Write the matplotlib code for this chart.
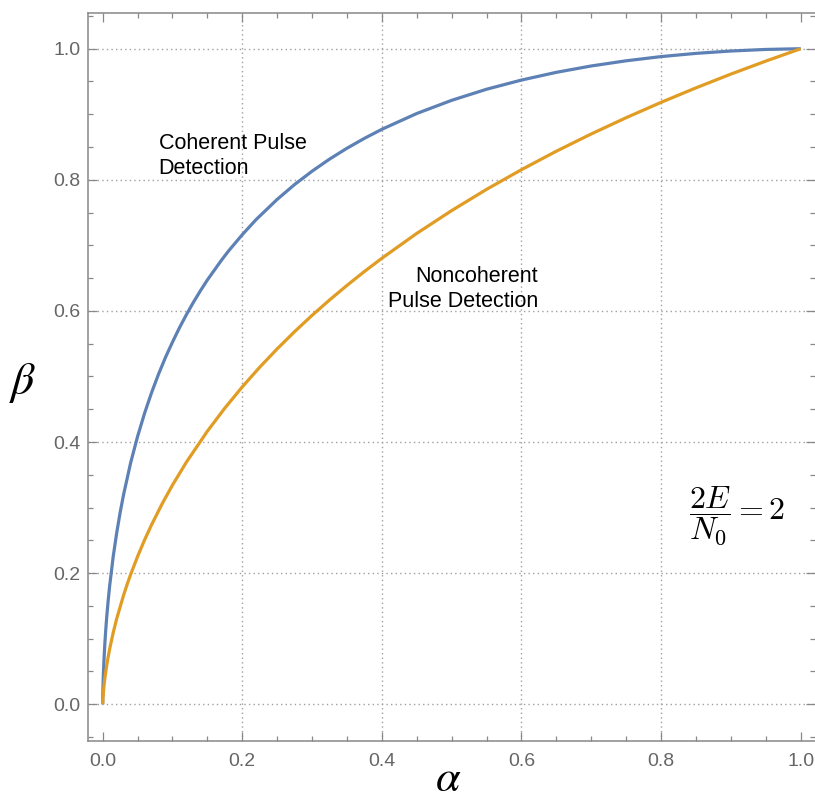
import numpy as np
import matplotlib.pyplot as plt
from matplotlib.ticker import MultipleLocator

# false alarm probability (alpha) vs detection probability (beta)
alpha_coh = [0.0, 0.00002, 0.0001, 0.0002, 0.0005, 0.001, 0.002, 0.003, 0.004,
             0.005, 0.006, 0.008, 0.01, 0.015, 0.02, 0.025, 0.03, 0.04, 0.05,
             0.06, 0.07, 0.08, 0.09, 0.1, 0.11, 0.12, 0.13, 0.14, 0.15, 0.17,
             0.18, 0.2, 0.22, 0.25, 0.275, 0.3, 0.325, 0.35, 0.375, 0.4, 0.45,
             0.5, 0.55, 0.6, 0.65, 0.7, 0.75, 0.8, 0.85, 0.9, 0.95, 1.0]
beta_coh = [0.0, 0.0035, 0.0106, 0.0168, 0.0303, 0.0469, 0.0716, 0.0912, 0.1079,
            0.1226, 0.1362, 0.1599, 0.1809, 0.2249, 0.2611, 0.2926, 0.3203,
            0.3682, 0.4086, 0.4440, 0.4753, 0.5036, 0.5293, 0.5525, 0.5744,
            0.5945, 0.6133, 0.6308, 0.6473, 0.6772, 0.6911, 0.7164, 0.7396,
            0.7702, 0.7929, 0.8132, 0.8316, 0.8482, 0.8633, 0.8771, 0.9012,
            0.9213, 0.9382, 0.9522, 0.9640, 0.9737, 0.9816, 0.9880, 0.9929,
            0.9965, 0.9989, 1.0]

alpha_nc = [0.0, 0.0001, 0.0002, 0.0005, 0.001, 0.002, 0.003, 0.005, 0.0075,
            0.01, 0.015, 0.02, 0.03, 0.035, 0.04, 0.05, 0.06, 0.07, 0.085, 0.1,
            0.12, 0.15, 0.175, 0.2, 0.225, 0.25, 0.275, 0.3, 0.325, 0.35, 0.375,
            0.4, 0.45, 0.5, 0.55, 0.6, 0.65, 0.7, 0.75, 0.8, 0.85, 0.9, 0.95,
            1.0]
beta_nc = [0.0, 0.0037, 0.0060, 0.0115, 0.0185, 0.0295, 0.0387, 0.0541, 0.0703,
           0.0845, 0.1090, 0.1303, 0.1667, 0.1828, 0.1979, 0.2255, 0.2507,
           0.2738, 0.3055, 0.3344, 0.3695, 0.4166, 0.4518, 0.4842, 0.5142,
           0.5422, 0.5685, 0.5933, 0.6167, 0.6390, 0.6602, 0.6804, 0.7183,
           0.7531, 0.7855, 0.8155, 0.8437, 0.8700, 0.8948, 0.9182, 0.9403,
           0.9613, 0.9811, 1.0]

blue = '#5E81B5'
orange = '#E19C24'
gray = '#888888'

fig = plt.figure(figsize=(8.15, 8.02), dpi=100)
ax = fig.add_axes([0.1076, 0.0761, 0.8924, 0.9077])

ax.plot(alpha_coh, beta_coh, color=blue, lw=2.3, solid_joinstyle='round',
        solid_capstyle='butt', zorder=3)
ax.plot(alpha_nc, beta_nc, color=orange, lw=2.3, solid_joinstyle='round',
        solid_capstyle='butt', zorder=3)

ax.set_xlim(-0.0215, 1.0205)
ax.set_ylim(-0.056, 1.0545)

ax.xaxis.set_major_locator(MultipleLocator(0.2))
ax.xaxis.set_minor_locator(MultipleLocator(0.05))
ax.yaxis.set_major_locator(MultipleLocator(0.2))
ax.yaxis.set_minor_locator(MultipleLocator(0.05))
ax.xaxis.set_major_formatter(plt.FormatStrFormatter('%.1f'))
ax.yaxis.set_major_formatter(plt.FormatStrFormatter('%.1f'))

ax.tick_params(which='both', direction='in', top=True, right=True, color=gray,
               width=0.9)
ax.tick_params(which='major', length=6.5, labelsize=14, labelcolor='#666666')
ax.tick_params(which='minor', length=3.6)
ax.tick_params(axis='x', which='major', pad=9)
ax.tick_params(axis='y', which='major', pad=5)
for lab in ax.get_xticklabels() + ax.get_yticklabels():
    lab.set_family('Liberation Sans')

for s in ['left', 'bottom', 'top']:
    ax.spines[s].set_color(gray)
    ax.spines[s].set_linewidth(1.1)
ax.spines['right'].set_visible(False)

# dotted grid
for gx in [0.2, 0.4, 0.6, 0.8]:
    ax.axvline(gx, color='#a0a0a0', lw=1.0, dashes=(1, 2.3), zorder=1)
for gy in [0.0, 0.2, 0.4, 0.6, 0.8, 1.0]:
    ax.axhline(gy, color='#a0a0a0', lw=1.0, dashes=(1, 2.3), zorder=1)

ax.text(0.08, 0.836, 'Coherent Pulse\nDetection', fontsize=15.5,
        family='Liberation Sans', ha='left', va='center', linespacing=1.25)
ax.text(0.624, 0.633, 'Noncoherent\nPulse Detection', fontsize=15.5,
        family='Liberation Sans', ha='right', va='center', linespacing=1.25,
        multialignment='right')
ax.text(0.909, 0.2877, r'$\dfrac{2E}{N_0} = 2$', fontsize=23, ha='center',
        va='center', math_fontfamily='cm')

fig.text(448 / 815, 1 - 800 / 802, r'$\alpha$', fontsize=32, ha='center',
         va='bottom', math_fontfamily='stix')
fig.text(23 / 815, 1 - 383 / 802, r'$\beta$', fontsize=33, ha='center',
         va='center', math_fontfamily='stix')

fig.savefig('out.png', dpi=100)
